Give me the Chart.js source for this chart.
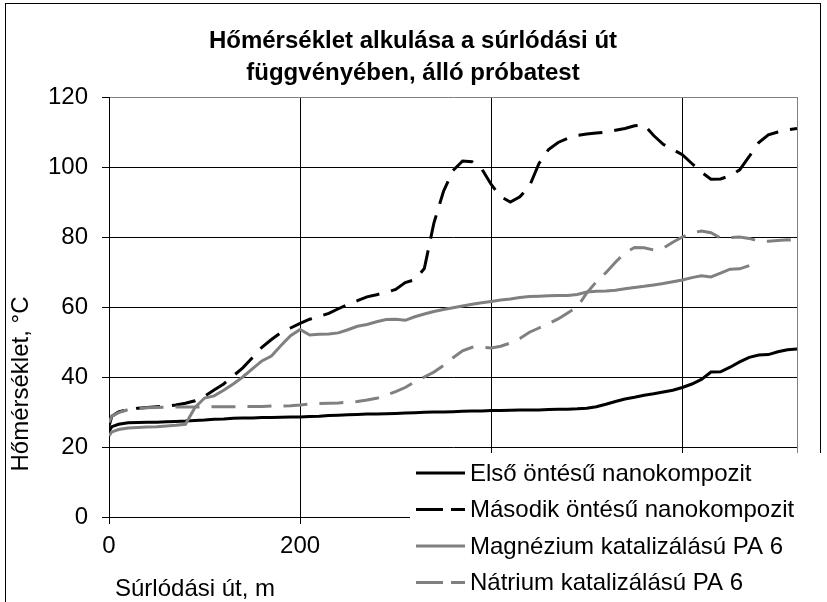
<!DOCTYPE html>
<html>
<head>
<meta charset="utf-8">
<script src="https://cdn.jsdelivr.net/npm/chart.js@4.4.1/dist/chart.umd.min.js"></script>
<style>
  html, body { margin: 0; padding: 0; background: #fff; }
  #wrap { width: 827px; height: 602px; }
</style>
</head>
<body>
<div id="wrap"><canvas id="tempChart" width="827" height="602"></canvas></div>
<script>
// ===== Adatok =====
const distance = [0, 3, 10, 20, 30, 40, 50, 60, 70, 80, 90, 100, 110, 120, 130, 140, 150, 160, 170, 180, 190,
  200, 210, 220, 230, 240, 250, 260, 270, 280, 290, 300, 310, 320, 330, 340, 350, 360, 370, 380, 390,
  400, 410, 420, 430, 440, 450, 460, 470, 480, 490, 500, 510, 520, 530, 540, 550, 560, 570, 580, 590,
  600, 610, 620, 630, 640, 650, 660, 670, 680, 690, 700, 710, 720];

const elso = [24.5, 25.8, 26.5, 26.9, 27.0, 27.1, 27.1, 27.2, 27.3, 27.4, 27.6, 27.7, 27.9, 28.0, 28.2, 28.3, 28.3, 28.4, 28.4, 28.5, 28.6,
  28.6, 28.7, 28.8, 29.0, 29.1, 29.2, 29.3, 29.4, 29.4, 29.5, 29.6, 29.7, 29.8, 29.9, 30.0, 30.0, 30.1, 30.2, 30.3, 30.3,
  30.4, 30.4, 30.5, 30.6, 30.6, 30.6, 30.7, 30.8, 30.8, 30.9, 31.1, 31.5, 32.2, 33.0, 33.7, 34.2, 34.8, 35.2, 35.7, 36.2,
  37.0, 38.0, 39.3, 41.4, 41.5, 42.8, 44.3, 45.6, 46.3, 46.4, 47.2, 47.8, 48.0];

const masodik = [26.0, 28.8, 30.0, 30.7, 31.1, 31.3, 31.5, 31.7, 32.0, 32.5, 33.2, 34.5, 36.3, 38.0, 40.3, 42.6, 45.5, 48.5, 50.7, 52.7, 54.0,
  55.3, 56.5, 57.3, 58.2, 59.5, 60.7, 61.8, 62.9, 63.5, 64.2, 65.0, 67.0, 67.8, 71.0, 84.0, 93.0, 99.0, 101.7, 101.5, 99.5,
  95.0, 91.5, 90.0, 91.5, 94.5, 101.0, 105.0, 107.0, 108.2, 109.0, 109.4, 109.7, 110.0, 110.5, 111.0, 111.8, 112.0, 109.0, 106.5, 105.0,
  103.5, 101.0, 98.5, 96.5, 96.6, 97.5, 99.2, 103.0, 107.0, 109.2, 110.0, 110.6, 111.0];

const magnezium = [23.2, 24.3, 25.0, 25.4, 25.6, 25.7, 25.8, 26.0, 26.2, 26.5, 31.3, 34.0, 34.6, 36.2, 38.0, 40.0, 42.3, 44.6, 46.0, 49.0, 51.8,
  53.6, 52.0, 52.2, 52.3, 52.6, 53.5, 54.5, 55.0, 55.8, 56.4, 56.5, 56.2, 57.2, 58.0, 58.7, 59.3, 59.8, 60.3, 60.8, 61.2,
  61.6, 62.0, 62.3, 62.7, 63.0, 63.1, 63.2, 63.3, 63.3, 63.6, 64.3, 64.5, 64.6, 64.8, 65.2, 65.6, 65.9, 66.3, 66.7, 67.2,
  67.7, 68.4, 68.9, 68.6, 69.7, 70.8, 70.9, 71.8, null, null, null, null, null];

const natrium = [27.0, 28.8, 29.8, 30.7, 31.0, 31.2, 31.3, 31.4, 31.4, 31.4, 31.4, 31.4, 31.5, 31.5, 31.5, 31.6, 31.6, 31.6, 31.7, 31.7, 31.8,
  32.0, 32.3, 32.4, 32.5, 32.6, 32.8, 33.0, 33.4, 33.9, 34.8, 35.8, 37.0, 38.6, 40.0, 41.4, 43.3, 45.5, 47.5, 48.5, 48.5,
  48.3, 48.8, 49.7, 51.0, 52.8, 54.0, 55.2, 56.6, 58.3, 60.0, 64.0, 67.2, 69.8, 72.8, 75.5, 77.0, 76.9, 76.3, 76.8, 78.5,
  80.0, 81.2, 81.7, 81.2, 79.7, 79.8, 80.0, 79.6, 78.8, 78.8, 79.0, 79.2, 79.1];

const seriesNames = ['Első öntésű nanokompozit', 'Második öntésű nanokompozit', 'Magnézium katalizálású PA 6', 'Nátrium katalizálású PA 6'];
const chartTitle = ['Hőmérséklet alkulása a súrlódási út', 'függvényében, álló próbatest'];
const xTitle = 'Súrlódási út, m';
const yTitle = 'Hőmérséklet, °C';

// ===== Stílus =====
const FONT = '"Liberation Sans", Arial, sans-serif';
const grey = '#808080';
const dash = [24, 12];
const styles = [
  { color: '#000', dash: [] },
  { color: '#000', dash: dash },
  { color: grey, dash: [] },
  { color: grey, dash: dash }
];

const toPoints = arr => distance.map((d, i) => ({ x: d, y: arr[i] }));

// ===== Cím, tengelycímek, jelmagyarázat =====
const decor = {
  id: 'decor',
  beforeDraw(chart) {
    const ctx = chart.ctx;
    ctx.save();
    ctx.fillStyle = '#fff';
    ctx.fillRect(0, 0, chart.width, chart.height);
    ctx.restore();
  },
  afterDraw(chart) {
    const ctx = chart.ctx;
    const area = chart.chartArea;
    ctx.save();

    // plot terület jobb széle
    ctx.strokeStyle = grey;
    ctx.lineWidth = 1;
    ctx.beginPath();
    ctx.moveTo(Math.round(area.right) + 0.5, area.top);
    ctx.lineTo(Math.round(area.right) + 0.5, area.bottom);
    ctx.stroke();

    // külső keret
    ctx.strokeStyle = '#000';
    ctx.strokeRect(5.5, 3.5, 815, 640);

    // cím
    ctx.fillStyle = '#000';
    ctx.textAlign = 'center';
    ctx.textBaseline = 'alphabetic';
    ctx.font = 'bold 24px ' + FONT;
    ctx.fillText(chartTitle[0], 413, 48);
    ctx.fillText(chartTitle[1], 413, 80);

    // y tengelycím
    ctx.font = '24px ' + FONT;
    ctx.save();
    ctx.translate(28, 384);
    ctx.rotate(-Math.PI / 2);
    ctx.fillText(yTitle, 0, 0);
    ctx.restore();

    // x tengelycím
    ctx.textAlign = 'left';
    ctx.fillText(xTitle, 115, 596);

    // jelmagyarázat
    ctx.fillStyle = '#fff';
    ctx.fillRect(410, 453, 417, 149);
    ctx.font = '24px ' + FONT;
    ctx.textBaseline = 'middle';
    seriesNames.forEach((name, i) => {
      const y = 473 + i * 36.5;
      ctx.strokeStyle = styles[i].color;
      ctx.lineWidth = 3;
      ctx.setLineDash(styles[i].dash.length ? [27, 8] : []);
      ctx.beginPath();
      ctx.moveTo(416, y);
      ctx.lineTo(465, y);
      ctx.stroke();
      ctx.setLineDash([]);
      ctx.fillStyle = '#000';
      ctx.fillText(name, 470, y + 1);
    });
    ctx.restore();
  }
};

const ctx = document.getElementById('tempChart');
const series = [elso, masodik, magnezium, natrium];

new Chart(ctx, {
  type: 'line',
  data: {
    datasets: series.map((arr, i) => ({
      label: seriesNames[i],
      data: toPoints(arr),
      borderColor: styles[i].color,
      borderDash: styles[i].dash,
      borderWidth: 3,
      pointRadius: 0,
      tension: 0,
      fill: false,
      spanGaps: false,
      order: 3 - i
    }))
  },
  options: {
    responsive: false,
    animation: false,
    devicePixelRatio: 1,
    layout: { padding: { top: 97, right: 30, left: 0, bottom: 0 } },
    plugins: {
      legend: { display: false },
      title: { display: false },
      tooltip: { enabled: false }
    },
    scales: {
      x: {
        type: 'linear',
        min: 0,
        max: 720,
        afterFit: s => { s.height = 85; },
        border: { color: '#000', width: 1 },
        grid: { color: '#000', tickLength: 7, tickColor: '#000' },
        ticks: {
          stepSize: 200,
          includeBounds: false,
          color: '#000',
          padding: 8,
          maxRotation: 0,
          font: { family: FONT, size: 24 }
        }
      },
      y: {
        min: 0,
        max: 120,
        afterFit: s => { s.width = 109; },
        border: { color: '#000', width: 1 },
        grid: {
          color: c => (c.tick && c.tick.value === 120 ? grey : '#000'),
          tickLength: 7,
          tickColor: '#000'
        },
        ticks: {
          stepSize: 20,
          color: '#000',
          padding: 14,
          font: { family: FONT, size: 24 }
        }
      }
    }
  },
  plugins: [decor]
});
</script>
</body>
</html>
